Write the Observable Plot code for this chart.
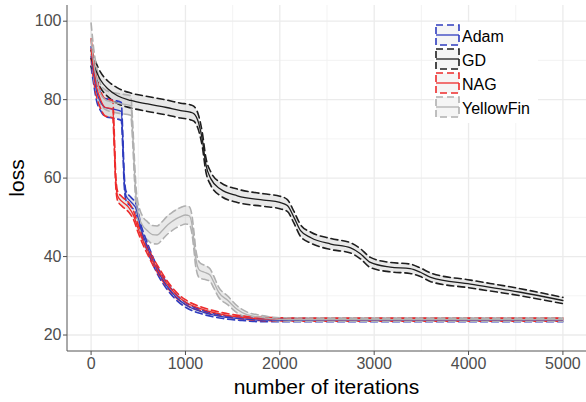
<!DOCTYPE html>
<html><head><meta charset="utf-8">
<script src="https://cdn.jsdelivr.net/npm/d3@7"></script>
<script src="https://cdn.jsdelivr.net/npm/@observablehq/plot@0.6"></script>
<style>body{margin:0;background:#fff} #chart svg{display:block}</style>
</head><body><div id="chart"></div>
<script>
const seriesNames = ["Adam", "GD", "NAG", "YellowFin"];
const seriesColors = ["#2f3cbf", "#1e1e1e", "#ee2b2b", "#b0b0b0"];
const xTicks = [0, 1000, 2000, 3000, 4000, 5000];
const xMinor = [500, 1500, 2500, 3500, 4500];
const yTicks = [20, 40, 60, 80, 100];
const yMinor = [30, 50, 70, 90];

const adamIter = [0, 30, 60, 100, 150, 250, 320, 335, 350, 370, 420, 480, 530, 580, 620, 700, 800, 900, 1000, 1200, 1400, 1600, 1800, 2500, 3500, 5000];
const adamLoss = [91, 86, 82, 79.5, 78, 77.5, 77, 70, 60, 55.5, 54, 52, 47, 43.5, 41, 36.6, 32.6, 29.7, 27.7, 25.7, 24.6, 24.1, 23.8, 23.8, 23.8, 23.8];
const adamSd   = [2.5, 2.5, 2.5, 2.3, 2.3, 2.3, 2.3, 2, 1.5, 1.2, 1.2, 1.2, 1, 1, 1, 0.9, 0.8, 0.7, 0.6, 0.5, 0.4, 0.4, 0.4, 0.4, 0.4, 0.4];

const gdIter = [0, 50, 100, 180, 280, 420, 600, 800, 950, 1050, 1090, 1140, 1180, 1215, 1270, 1370, 1550, 1830, 2000, 2080, 2150, 2220, 2330, 2540, 2750, 2850, 2960, 3170, 3380, 3490, 3600, 4020, 4550, 5000];
const gdLoss = [90.5, 87.5, 85, 82.7, 81, 79.8, 78.9, 78, 77.2, 76.8, 76.4, 74, 69.6, 63.6, 59.8, 57.2, 55.5, 54.4, 53.8, 53, 50, 46.6, 44.8, 43.2, 42.2, 40.8, 38.5, 37.3, 36.9, 36, 34.7, 33, 30.9, 28.8];
const gdSd   = [2.0, 2.0, 2.0, 2.0, 2.0, 1.9, 1.9, 1.9, 1.9, 1.9, 1.9, 1.9, 1.8, 1.8, 1.7, 1.7, 1.7, 1.6, 1.6, 1.5, 1.5, 1.5, 1.4, 1.4, 1.3, 1.3, 1.3, 1.2, 1.2, 1.1, 1.1, 1.0, 0.9, 0.8];

const nagIter = [0, 30, 60, 100, 150, 200, 230, 245, 260, 280, 330, 400, 450, 500, 550, 600, 650, 700, 800, 900, 1000, 1200, 1400, 1600, 1800, 2500, 3500, 5000];
const nagLoss = [93, 87, 83, 80, 78, 77.8, 77.5, 70, 60, 55.5, 54, 52.5, 50.5, 47, 44, 41.5, 39, 37, 33.2, 30.3, 28.4, 26.4, 25.2, 24.5, 24.1, 23.9, 23.9, 23.9];
const nagSd   = [2.5, 2.5, 2.3, 2.2, 2.2, 2.2, 2.2, 2, 1.5, 1.2, 1.2, 1.2, 1.1, 1, 1, 1, 0.9, 0.9, 0.8, 0.7, 0.6, 0.5, 0.45, 0.4, 0.4, 0.4, 0.4, 0.4];

const yfIter = [0, 30, 60, 100, 150, 200, 300, 420, 440, 460, 480, 510, 545, 600, 650, 700, 750, 800, 850, 900, 950, 1000, 1040, 1070, 1090, 1110, 1150, 1200, 1260, 1300, 1350, 1450, 1550, 1650, 1800, 2000, 2200, 3500, 5000];
const yfLoss = [95.5, 89, 85, 81.5, 80, 79.5, 79, 78.5, 72, 62, 54, 50, 48, 46.5, 45.6, 45.5, 46.5, 47.8, 48.8, 49.6, 50.2, 50.6, 50.4, 48, 44, 39.5, 36.5, 36, 35.3, 33.5, 31, 28.8, 26.5, 25.2, 24.5, 24, 23.9, 23.9, 23.9];
const yfSd   = [4, 3.5, 3, 2.5, 2.5, 2.5, 2.5, 2.5, 2.5, 2.5, 2.5, 2.5, 2.3, 2.3, 2.3, 2.3, 2.3, 2.3, 2.3, 2.3, 2.3, 2.3, 2.3, 2.3, 2.3, 2.2, 2, 1.8, 1.6, 1.5, 1.3, 1.1, 0.9, 0.7, 0.5, 0.4, 0.4, 0.4, 0.4];

const sources = [
  ["Adam", adamIter, adamLoss, adamSd],
  ["GD", gdIter, gdLoss, gdSd],
  ["NAG", nagIter, nagLoss, nagSd],
  ["YellowFin", yfIter, yfLoss, yfSd]
];
const rows = [];
for (const [name, it, loss, sd] of sources) {
  it.forEach((x, i) => rows.push({series: name, x, mean: loss[i], lo: loss[i] - sd[i], hi: loss[i] + sd[i]}));
}

const curve = "monotone-x";
const W = 586, H = 402, mL = 67, mR = 0, mT = 5, mB = 51;
const plot = Plot.plot({
  width: W, height: H, marginLeft: mL, marginRight: mR, marginTop: mT, marginBottom: mB,
  style: {fontFamily: "'Liberation Sans', Arial, sans-serif", background: "#fff", overflow: "visible"},
  x: {domain: [-250, 5250]},
  y: {domain: [15.8, 104]},
  color: {domain: seriesNames, range: seriesColors},
  marks: [
    Plot.ruleX(xMinor, {stroke: "#f0f0f0", strokeWidth: 0.8}),
    Plot.ruleY(yMinor, {stroke: "#f0f0f0", strokeWidth: 0.8}),
    Plot.ruleX(xTicks, {stroke: "#ebebeb", strokeWidth: 1.3}),
    Plot.ruleY(yTicks, {stroke: "#ebebeb", strokeWidth: 1.3}),
    Plot.areaY(rows, {x: "x", y1: "lo", y2: "hi", z: "series", fill: "#cfcfcf", fillOpacity: 0.45, curve}),
    Plot.lineY(rows, {x: "x", y: "lo", z: "series", stroke: "series", strokeWidth: 1.6, strokeDasharray: "7,4", curve}),
    Plot.lineY(rows, {x: "x", y: "hi", z: "series", stroke: "series", strokeWidth: 1.6, strokeDasharray: "7,4", curve}),
    Plot.lineY(rows, {x: "x", y: "mean", z: "series", stroke: "series", strokeWidth: 1.3, curve}),
    Plot.axisX({ticks: xTicks, tickFormat: d3.format("d"), tickSize: 4, tickPadding: 2, fontSize: 16, color: "#4d4d4d", label: null}),
    Plot.axisY({ticks: yTicks, tickFormat: d3.format("d"), tickSize: 4, tickPadding: 2, fontSize: 16, color: "#4d4d4d", label: null})
  ]
});
document.getElementById("chart").append(plot);

const svg = d3.select(plot);
const xr = plot.scale("x").range, yr = plot.scale("y").range;
const pLeft = Math.min(...xr), pRight = Math.max(...xr), pTop = Math.min(...yr), pBottom = Math.max(...yr);
svg.append("line").attr("x1", pLeft).attr("x2", pLeft).attr("y1", pTop).attr("y2", pBottom).attr("stroke", "#555").attr("stroke-width", 1);
svg.append("line").attr("x1", pLeft).attr("x2", pRight).attr("y1", pBottom).attr("y2", pBottom).attr("stroke", "#555").attr("stroke-width", 1);

svg.append("text").attr("x", (pLeft + pRight) / 2).attr("y", 388).attr("text-anchor", "middle").attr("dominant-baseline", "middle")
  .attr("font-size", 21).attr("fill", "#000").text("number of iterations");
svg.append("text").attr("transform", `translate(18,${(pTop + pBottom) / 2}) rotate(-90)`).attr("text-anchor", "middle").attr("dominant-baseline", "middle")
  .attr("font-size", 21).attr("fill", "#000").text("loss");

// legend
const lg = svg.append("g");
lg.append("rect").attr("x", 434).attr("y", 22).attr("width", 104).attr("height", 101).attr("fill", "#fff");
seriesNames.forEach((name, i) => {
  const y0 = 25 + i * 24;
  lg.append("rect").attr("x", 436).attr("y", y0).attr("width", 23).attr("height", 20)
    .attr("fill", "#ececec").attr("fill-opacity", 0.5)
    .attr("stroke", seriesColors[i]).attr("stroke-width", 1.6).attr("stroke-dasharray", "7,4");
  lg.append("line").attr("x1", 436).attr("x2", 459).attr("y1", y0 + 10).attr("y2", y0 + 10)
    .attr("stroke", seriesColors[i]).attr("stroke-width", 1.3);
  lg.append("text").attr("x", 462).attr("y", y0 + 13).attr("text-anchor", "start").attr("dominant-baseline", "middle")
    .attr("font-size", 16).attr("fill", "#000").text(name);
});
</script>
</body></html>
